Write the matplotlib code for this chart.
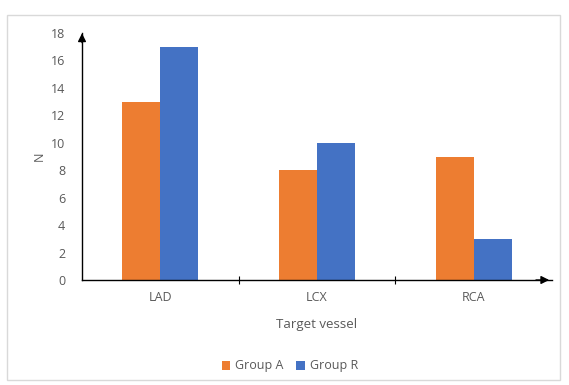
import matplotlib.pyplot as plt
import numpy as np
from matplotlib.patches import Rectangle

# Target vessel counts per group
vessels = ["LAD", "LCX", "RCA"]
group_a = [13, 8, 9]
group_r = [17, 10, 3]
y_ticks = [0, 2, 4, 6, 8, 10, 12, 14, 16, 18]

ORANGE = "#ED7D31"
BLUE = "#4472C4"
GREY_TEXT = "#595959"

plt.rcParams["font.family"] = ["Open Sans", "DejaVu Sans"]

fig = plt.figure(figsize=(5.69, 3.85), dpi=100)
fig.patch.set_facecolor("white")

# light frame round the chart area
fig.add_artist(Rectangle((7 / 569, 1 - 380 / 385), 553 / 569, 365 / 385,
                         transform=fig.transFigure, fill=False,
                         edgecolor="#D9D9D9", linewidth=1.0))

ax = fig.add_axes([82 / 569, 1 - 280 / 385, 470 / 569, 247 / 385])

x = np.arange(len(vessels))
width = 0.243
ax.bar(x - width / 2, group_a, width, color=ORANGE, label="Group A")
ax.bar(x + width / 2, group_r, width, color=BLUE, label="Group R")

ax.set_xlim(-0.5, len(vessels) - 0.5)
ax.set_ylim(0, 18)
ax.set_yticks(y_ticks)
ax.set_xticks(x)
ax.set_xticklabels(vessels)
ax.set_xticks([0.5, 1.5], minor=True)

ax.tick_params(axis="y", length=0, pad=12, labelsize=9, labelcolor=GREY_TEXT)
ax.tick_params(axis="x", which="major", length=0, pad=8, labelsize=9,
               labelcolor=GREY_TEXT)
ax.tick_params(axis="x", which="minor", direction="inout", length=6,
               width=0.8, color="black")

for side in ["top", "right"]:
    ax.spines[side].set_visible(False)
for side in ["left", "bottom"]:
    ax.spines[side].set_color("black")
    ax.spines[side].set_linewidth(1.0)

# arrow heads on both axes
ax.annotate("", xy=(0, 1.01), xytext=(0, 0.95), xycoords="axes fraction",
            arrowprops=dict(arrowstyle="-|>", color="black", lw=1.0,
                            mutation_scale=12))
ax.annotate("", xy=(1.0, 0), xytext=(0.96, 0), xycoords="axes fraction",
            arrowprops=dict(arrowstyle="-|>", color="black", lw=1.0,
                            mutation_scale=12))

ax.set_ylabel("N", fontsize=9, color=GREY_TEXT, labelpad=4)
ax.set_xlabel("Target vessel", fontsize=9.5, color=GREY_TEXT, labelpad=10)

fig.legend(loc="center", bbox_to_anchor=(290 / 569, 1 - 366 / 385), ncol=2,
           frameon=False, fontsize=9, labelcolor=GREY_TEXT,
           handlelength=0.7, handleheight=0.7, handletextpad=0.4,
           columnspacing=1.0)

fig.savefig("out.png", dpi=100)
